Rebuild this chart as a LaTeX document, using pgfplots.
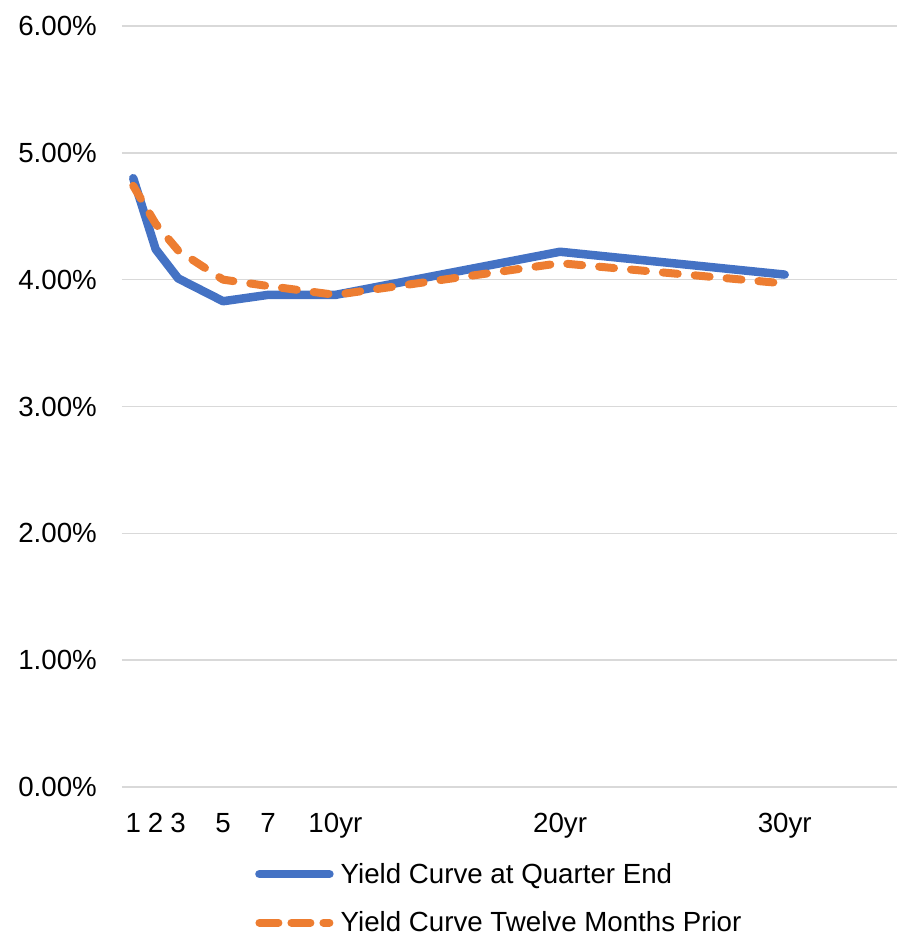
\documentclass[border=0pt]{standalone}
\usepackage{pgfplots}
\pgfplotsset{compat=1.18}
\usepackage{fontspec}
\setmainfont{Liberation Sans}
\definecolor{cblue}{HTML}{4472C4}
\definecolor{corange}{HTML}{ED7D31}
\definecolor{cgrid}{HTML}{D9D9D9}
\begin{document}
\begin{tikzpicture}
\useasboundingbox (-122bp,-148bp) rectangle (775bp,787bp);
\begin{axis}[
  at={(0,0)}, anchor=south west,
  scale only axis, width=775bp, height=761bp,
  xmin=0.5, xmax=35, ymin=0, ymax=6,
  axis line style={draw=none},
  major tick length=0pt,
  ymajorgrids, grid style={cgrid, line width=1.6bp},
  ytick={0,1,2,3,4,5,6},
  yticklabel={\pgfmathprintnumber[fixed,fixed zerofill,precision=2]{\tick}\%},
  xtick={1,2,3,5,7,10,20,30},
  xticklabels={1,2,3,5,7,10yr,20yr,30yr},
  /pgf/number format/assume math mode=true,
  tick label style={font=\fontsize{27.8}{33}\selectfont},
  yticklabel style={anchor=east, inner sep=0pt, xshift=-25bp},
  xticklabel style={anchor=north, inner sep=0pt, yshift=-26bp},
  legend style={at={(0.1716,-0.1)}, anchor=north west, draw=none, fill=none,
    font=\fontsize{27.8}{33}\selectfont, row sep=27bp, inner sep=0pt,
    nodes={inner sep=0pt}},
  legend cell align=left,
  legend image code/.code={\draw[#1] (4bp,0bp) -- (74bp,0bp);},
  clip=false,
]
\addplot[cblue, line width=8.5bp, line join=round, line cap=round, forget plot] coordinates {
 (1,4.80) (2,4.24) (3,4.01) (5,3.83) (7,3.88) (10,3.88) (20,4.22) (30,4.04)};
\addplot[corange, line width=8bp, line join=round, line cap=round, dash pattern=on 15bp off 17bp, forget plot] coordinates {
 (1,4.74) (2,4.44) (3,4.23) (5,4.00) (7,3.95) (10,3.88) (20,4.13) (30,3.97)};
\addlegendimage{cblue, line width=8.5bp, line cap=round}
\addlegendentry{\hspace{7bp}Yield Curve at Quarter End}
\addlegendimage{corange, line width=8bp, line cap=round, dash pattern=on 19bp off 13bp}
\addlegendentry{\hspace{7bp}Yield Curve Twelve Months Prior}
\end{axis}
\end{tikzpicture}
\end{document}
